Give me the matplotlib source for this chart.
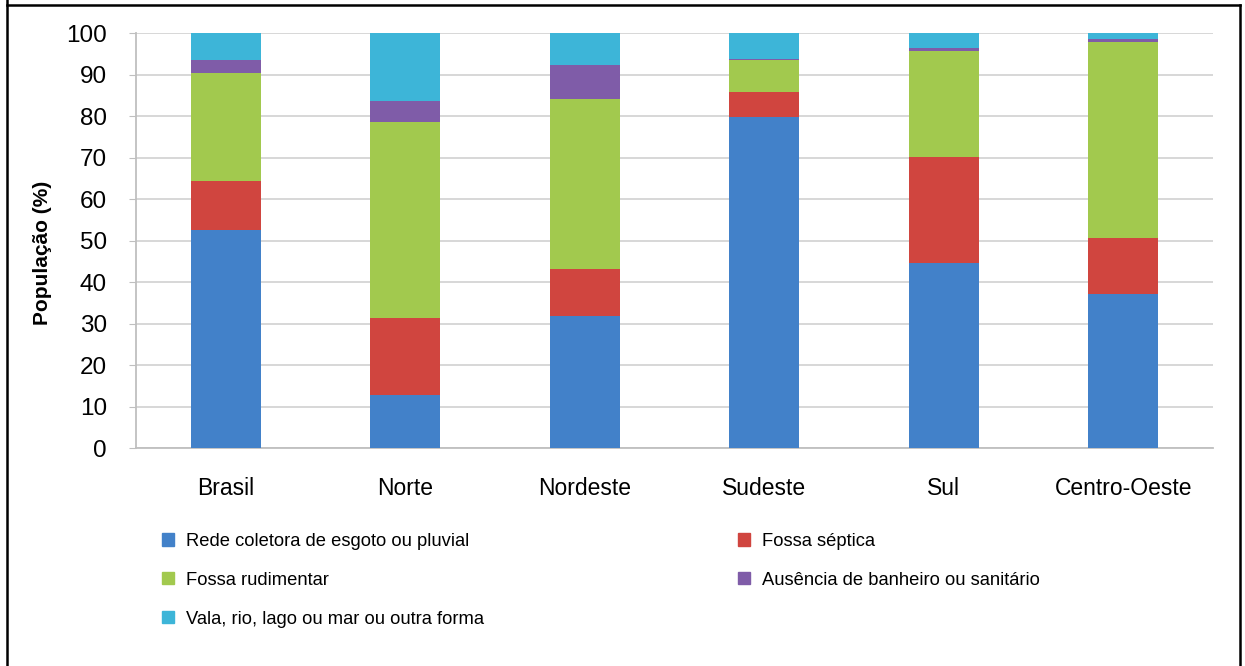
import numpy as np
import matplotlib; matplotlib.use("Agg"); import matplotlib.pyplot as plt
from matplotlib.lines import Line2D
from matplotlib.patches import Patch

plt.rcParams["font.family"] = ["Liberation Sans", "DejaVu Sans"]

regioes = ["Brasil", "Norte", "Nordeste", "Sudeste", "Sul", "Centro-Oeste"]
rede    = [52.5, 12.8, 31.9, 79.8, 44.5, 37.1]
septica = [11.8, 18.5, 11.2,  5.9, 25.7, 13.4]
rudim   = [26.1, 47.2, 40.9,  7.8, 25.5, 47.4]
ausenc  = [ 3.1,  5.1,  8.4,  0.3,  0.6,  0.7]
vala    = [ 6.5, 16.4,  7.6,  6.2,  3.7,  1.4]

series = [("Rede coletora de esgoto ou pluvial", rede, "#4281C9"),
          ("Fossa séptica", septica, "#D0453F"),
          ("Fossa rudimentar", rudim, "#A2C94E"),
          ("Ausência de banheiro ou sanitário", ausenc, "#7F5CA8"),
          ("Vala, rio, lago ou mar ou outra forma", vala, "#3DB5D8")]

fig = plt.figure(figsize=(12.45, 6.66), dpi=100)
ax = fig.add_axes([0.1092, 0.3273, 0.8651, 0.6231])

x = np.arange(len(regioes)); bottom = np.zeros(len(regioes))
for nm, v, col in series:
    ax.bar(x, v, 0.39, bottom=bottom, color=col, zorder=3)
    bottom += np.array(v)

ax.set_xlim(-0.5, 5.5); ax.set_ylim(0, 100)
ax.set_yticks(range(0, 101, 10))
ax.yaxis.grid(True, color="#D4D4D4", lw=1.3, zorder=0)
ax.set_xticks(x); ax.set_xticklabels(regioes, fontsize=16.5)
ax.tick_params(axis="x", length=0, pad=21)
ax.tick_params(axis="y", length=5, color="#BFBFBF", pad=16, labelsize=17.5)
for s in ("top", "right"): ax.spines[s].set_visible(False)
for s in ("left", "bottom"): ax.spines[s].set_color("#BFBFBF"); ax.spines[s].set_linewidth(1.3)
ax.set_ylabel("População (%)", fontsize=15, fontweight="bold")
ax.yaxis.set_label_coords(-0.078, 0.47)

# legend in two columns, placed separately like the original
kw = dict(frameon=False, fontsize=13.2, handlelength=0.65, handleheight=0.65,
          handletextpad=0.65, labelspacing=1.19, borderpad=0, borderaxespad=0, loc="upper left")
col1 = [0, 2, 4]; col2 = [1, 3]
fig.legend([Patch(color=series[i][2]) for i in col1], [series[i][0] for i in col1],
           bbox_to_anchor=(162/1245, 1 - 533/666), **kw)
fig.legend([Patch(color=series[i][2]) for i in col2], [series[i][0] for i in col2],
           bbox_to_anchor=(738/1245, 1 - 533/666), **kw)

# frame around the figure
for xs, ys in [((7, 7), (0, 666)), ((7, 1240), (5, 5)), ((1240, 1240), (5, 666))]:
    fig.add_artist(Line2D(np.array(xs)/1245, 1 - np.array(ys)/666, color="black", lw=1.8))

fig.savefig("out.png", dpi=100)
